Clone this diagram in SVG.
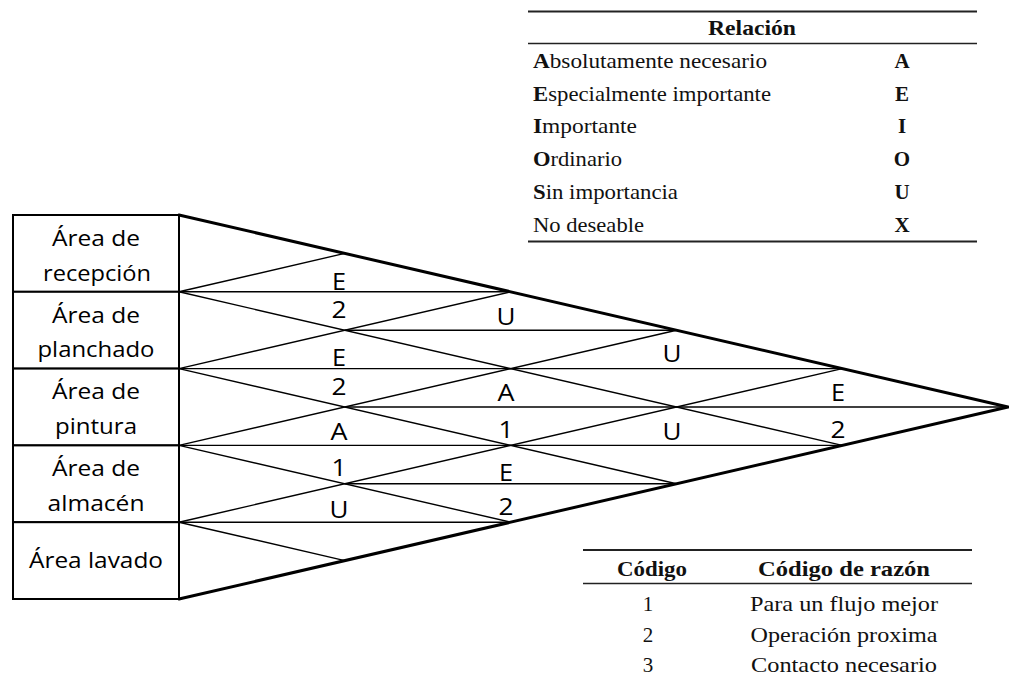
<svg xmlns="http://www.w3.org/2000/svg" width="1009" height="687" viewBox="0 0 1009 687">
  <style>
    .box { fill: #fff; stroke: #000; stroke-width: 2; }
    .edge { fill: none; stroke: #000; stroke-width: 3; stroke-linecap: round; stroke-linejoin: round; }
    .grid line { stroke: #000; stroke-width: 1.4; }
    .lbl { font-family: "Open Sans", "Liberation Sans", sans-serif; font-size: 22.5px; fill: #000; text-anchor: middle; }
    .mk { font-family: "Open Sans", "Liberation Sans", sans-serif; font-size: 23px; fill: #000; text-anchor: middle; }
    .serif { font-family: "Liberation Serif", "Times New Roman", serif; font-size: 21px; fill: #111; }
    .mid { text-anchor: middle; }
    .b { font-weight: bold; }
    .rule { stroke: #222; stroke-width: 2; }
    .rule-thin { stroke: #222; stroke-width: 1.4; }
  </style>

  <rect width="1009" height="687" fill="#fff"/>

  <!-- Relationship legend -->
  <g id="legend-relacion" class="serif">
    <line class="rule" x1="528" y1="11.5" x2="977" y2="11.5"/>
    <text class="b mid" x="752" y="35" textLength="88" lengthAdjust="spacingAndGlyphs">Relación</text>
    <line class="rule-thin" x1="528" y1="43.5" x2="977" y2="43.5"/>
    <text x="533" y="68" textLength="234" lengthAdjust="spacingAndGlyphs"><tspan class="b">A</tspan>bsolutamente necesario</text>
    <text x="533" y="100.5" textLength="238" lengthAdjust="spacingAndGlyphs"><tspan class="b">E</tspan>specialmente importante</text>
    <text x="533" y="133" textLength="104" lengthAdjust="spacingAndGlyphs"><tspan class="b">I</tspan>mportante</text>
    <text x="533" y="166" textLength="89" lengthAdjust="spacingAndGlyphs"><tspan class="b">O</tspan>rdinario</text>
    <text x="533" y="199" textLength="145" lengthAdjust="spacingAndGlyphs"><tspan class="b">S</tspan>in importancia</text>
    <text x="533" y="231.5" textLength="111" lengthAdjust="spacingAndGlyphs">No deseable</text>
    <text class="b mid" x="902" y="68">A</text>
    <text class="b mid" x="902" y="100.5">E</text>
    <text class="b mid" x="902" y="133">I</text>
    <text class="b mid" x="902" y="166">O</text>
    <text class="b mid" x="902" y="199">U</text>
    <text class="b mid" x="902" y="231.5">X</text>
    <line class="rule" x1="528" y1="241.5" x2="977" y2="241.5"/>
  </g>

  <!-- Reason-code legend -->
  <g id="legend-codigo" class="serif">
    <line class="rule" x1="583" y1="550" x2="972" y2="550"/>
    <text class="b mid" x="652" y="576" textLength="70" lengthAdjust="spacingAndGlyphs">Código</text>
    <text class="b mid" x="844" y="576" textLength="172" lengthAdjust="spacingAndGlyphs">Código de razón</text>
    <line class="rule-thin" x1="583" y1="583.5" x2="972" y2="583.5"/>
    <text class="mid" x="648" y="610.5">1</text>
    <text class="mid" x="844" y="610.5" textLength="188" lengthAdjust="spacingAndGlyphs">Para un flujo mejor</text>
    <text class="mid" x="648" y="641.5">2</text>
    <text class="mid" x="844" y="641.5" textLength="187" lengthAdjust="spacingAndGlyphs">Operación proxima</text>
    <text class="mid" x="648" y="672">3</text>
    <text class="mid" x="844" y="672" textLength="186" lengthAdjust="spacingAndGlyphs">Contacto necesario</text>
  </g>

  <!-- Department boxes -->
  <g id="area-recepcion">
    <rect class="box" x="13" y="215" width="166" height="76.8"/>
    <text class="lbl" x="96" y="246" textLength="88" lengthAdjust="spacingAndGlyphs">Área de</text>
    <text class="lbl" x="97" y="281" textLength="108" lengthAdjust="spacingAndGlyphs">recepción</text>
  </g>
  <g id="area-planchado">
    <rect class="box" x="13" y="291.8" width="166" height="76.8"/>
    <text class="lbl" x="96" y="323" textLength="88" lengthAdjust="spacingAndGlyphs">Área de</text>
    <text class="lbl" x="96" y="357" textLength="117" lengthAdjust="spacingAndGlyphs">planchado</text>
  </g>
  <g id="area-pintura">
    <rect class="box" x="13" y="368.6" width="166" height="76.8"/>
    <text class="lbl" x="96" y="399" textLength="88" lengthAdjust="spacingAndGlyphs">Área de</text>
    <text class="lbl" x="96" y="434" textLength="82" lengthAdjust="spacingAndGlyphs">pintura</text>
  </g>
  <g id="area-almacen">
    <rect class="box" x="13" y="445.4" width="166" height="76.8"/>
    <text class="lbl" x="96" y="476" textLength="88" lengthAdjust="spacingAndGlyphs">Área de</text>
    <text class="lbl" x="96" y="511" textLength="97" lengthAdjust="spacingAndGlyphs">almacén</text>
  </g>
  <g id="area-lavado">
    <rect class="box" x="13" y="522.2" width="166" height="76.8"/>
    <text class="lbl" x="96" y="568" textLength="134" lengthAdjust="spacingAndGlyphs">Área lavado</text>
  </g>

  <!-- Relationship triangle: diagonals and half-diamond separators -->
  <g id="connectors">
    <g class="grid">
      <!-- descending diagonals -->
      <line x1="179" y1="291.8" x2="842.2" y2="445.4"/>
      <line x1="179" y1="368.6" x2="676.4" y2="483.8"/>
      <line x1="179" y1="445.4" x2="510.6" y2="522.2"/>
      <line x1="179" y1="522.2" x2="344.8" y2="560.6"/>
      <!-- ascending diagonals -->
      <line x1="179" y1="291.8" x2="344.8" y2="253.4"/>
      <line x1="179" y1="368.6" x2="510.6" y2="291.8"/>
      <line x1="179" y1="445.4" x2="676.4" y2="330.2"/>
      <line x1="179" y1="522.2" x2="842.2" y2="368.6"/>
      <!-- horizontal splits -->
      <line x1="179" y1="291.8" x2="510.6" y2="291.8"/>
      <line x1="344.8" y1="330.2" x2="676.4" y2="330.2"/>
      <line x1="179" y1="368.6" x2="842.2" y2="368.6"/>
      <line x1="344.8" y1="407" x2="1008" y2="407"/>
      <line x1="179" y1="445.4" x2="842.2" y2="445.4"/>
      <line x1="344.8" y1="483.8" x2="676.4" y2="483.8"/>
      <line x1="179" y1="522.2" x2="510.6" y2="522.2"/>
    </g>
    <polyline class="edge" points="179,215 1008,407 179,599"/>
  </g>

  <!-- Relationship letters and reason codes -->
  <g id="ratings" class="mk">
    <text x="339" y="290" textLength="14" lengthAdjust="spacingAndGlyphs">E</text>
    <text x="339" y="318" textLength="15" lengthAdjust="spacingAndGlyphs">2</text>
    <text x="339" y="366" textLength="14" lengthAdjust="spacingAndGlyphs">E</text>
    <text x="339" y="395" textLength="15" lengthAdjust="spacingAndGlyphs">2</text>
    <text x="339" y="440" textLength="17" lengthAdjust="spacingAndGlyphs">A</text>
    <text x="339" y="476" textLength="15" lengthAdjust="spacingAndGlyphs">1</text>
    <text x="339" y="518" textLength="19" lengthAdjust="spacingAndGlyphs">U</text>

    <text x="506" y="325" textLength="19" lengthAdjust="spacingAndGlyphs">U</text>
    <text x="506" y="401" textLength="17" lengthAdjust="spacingAndGlyphs">A</text>
    <text x="506" y="438" textLength="15" lengthAdjust="spacingAndGlyphs">1</text>
    <text x="506" y="481" textLength="14" lengthAdjust="spacingAndGlyphs">E</text>
    <text x="506" y="515" textLength="15" lengthAdjust="spacingAndGlyphs">2</text>

    <text x="672" y="362" textLength="19" lengthAdjust="spacingAndGlyphs">U</text>
    <text x="672" y="440" textLength="19" lengthAdjust="spacingAndGlyphs">U</text>

    <text x="838" y="401" textLength="14" lengthAdjust="spacingAndGlyphs">E</text>
    <text x="838" y="438" textLength="15" lengthAdjust="spacingAndGlyphs">2</text>
  </g>
</svg>
